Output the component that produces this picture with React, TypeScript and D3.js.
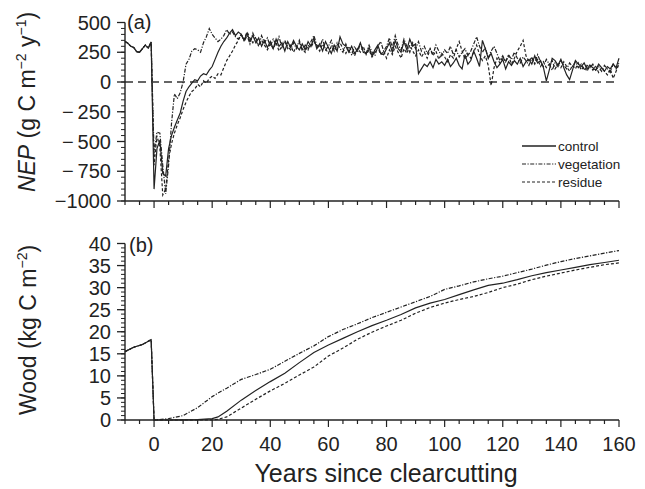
import React from "react";
import * as d3 from "d3";

const W = 645;
const H = 489;
const FONT = "'Liberation Sans', Arial, Helvetica, sans-serif";
const INK = "#222";

// NEP (g C m-2 y-1), one value per year
const nepPreYears = [-10, -9, -8, -7, -6, -5, -4, -3, -2, -1];
const nepPre = [340, 325, 300, 290, 255, 250, 280, 310, 285, 335]; // same for all runs

// years 0..160
const nepControl = [
  -900, -560, -490, -770, -790, -560, -450, -380, -320, -260,
  -160, -80, -40, -10, 20, 10, 50, 70, 60, 100,
  130, 190, 250, 300, 340, 370, 410, 440, 390, 420,
  400, 350, 410, 340, 390, 330, 370, 300, 350, 290,
  340, 280, 360, 300, 330, 260, 340, 290, 350, 300,
  270, 320, 270, 340, 300, 370, 280, 320, 260, 340,
  290, 240, 310, 260, 380, 320, 300, 250, 300, 240,
  270, 330, 250, 240, 290, 220, 270, 310, 240, 230,
  280, 330, 250, 350, 280, 250, 340, 270, 360, 300,
  320, 70, 110, 150, 130, 170, 120, 190, 150, 170,
  140, 190, 130, 160, 200, 140, 110, 230, 150, 180,
  260, 200, 130, 350, 280, 200, 240, 170, 120, 150,
  190, 110, 170, 140, 180, 150, 200, 130, 170, 190,
  150, 220, 160, 180, 120, 10, 100, 200, 180, 140,
  190, 120, 60, 20, 100, 180, 150, 130, 160, 110,
  140, 120, 100, 150, 120, 90, 130, 110, 150, 120,
  200,
];

const nepVegetation = [
  -600, -420, -430, -700, -940, -700, -350, -100, -140, -90,
  0, 150, 190, 260, 280, 270, 250, 330, 380, 450,
  400, 370, 340, 360, 390, 440, 400, 420, 380, 360,
  400, 340, 390, 320, 410, 350, 300, 390, 330, 370,
  300, 360, 310, 380, 290, 350, 300, 270, 330, 280,
  350, 260, 310, 270, 340, 390, 310, 290, 360, 270,
  300, 350, 260, 330, 280, 250, 320, 260, 230, 300,
  250, 320, 270, 240, 310, 250, 220, 300, 340, 260,
  300, 370, 290, 390, 310, 270, 360, 300, 250, 330,
  280, 340, 260, 300, 240, 280, 230, 310, 260, 220,
  270, 240, 300, 230, 270, 210, 250, 280, 220, 260,
  320, 380, 300, 250, 290, 200, 260, 300, 240, 180,
  220, 170, 230, 190, 250, 200, 160, 210, 180, 140,
  200, 160, 230, 170, 130, 190, 150, 100, 160, 130,
  180, 140, 110, 160, 130, 170, 120, 150, 100, 140,
  120, 150, 100, 130, 90, 140, 110, 80, 150, 110,
  160,
];

const nepResidue = [
  -700, -450, -550, -950, -900, -650, -520, -430, -360, -300,
  -230, -170, -120, -80, -60, -20, -40, 10, -10, 30,
  50, 30, 70, 60, 120, 180, 220, 260, 310, 350,
  400, 360, 420, 370, 330, 380, 300, 350, 310, 270,
  320, 280, 330, 260, 300, 340, 280, 310, 250, 300,
  330, 280, 250, 310, 290, 340, 300, 260, 320, 280,
  240, 300, 260, 310, 330, 280, 240, 300, 260, 220,
  280, 250, 300, 230, 270, 210, 250, 290, 230, 260,
  200, 270, 230, 300, 250, 200, 280, 240, 310, 260,
  220, 270, 210, 250, 200, 280, 220, 260, 190, 240,
  210, 170, 230, 200, 280, 340, 260, 190, 240, 200,
  250, 310, 230, 180, 220, 140, -30, 120, 200, 160,
  210, 170, 220, 150, 200, 260, 300, 350, 220, 170,
  210, 150, 190, 130, 170, 120, 150, 180, 110, 150,
  120, 170, 130, 90, 140, 110, 160, 100, 130, 90,
  140, 100, 130, 80, 120, 90, 60, 110, 30, 90,
  150,
];

// Wood (kg C m-2)
const woodPreYears = [-10, -7, -4, -1];
const woodPre = [15.5, 16.5, 17.1, 18.2];
const woodYears = [0, 5, 10, 15, 20, 22, 25, 30, 35, 40, 45, 50, 55, 60, 65, 70, 75, 80,
  85, 90, 95, 100, 105, 110, 115, 120, 125, 130, 135, 140, 145, 150, 155, 160];
const woodControl = [0, 0, 0.05, 0.1, 0.3, 0.7, 2.0, 4.5, 6.7, 8.7, 10.6, 13.0, 15.3, 17.0,
  18.5, 20.0, 21.4, 22.6, 23.9, 25.4, 26.5, 27.3, 28.4, 29.5, 30.5, 31.0, 31.8, 32.7,
  33.4, 34.0, 34.6, 35.2, 35.7, 36.2];
const woodVegetation = [0, 0.3, 1.0, 2.8, 5.3, 6.1, 7.2, 9.2, 10.3, 11.5, 13.3, 15.1, 16.8,
  18.9, 20.5, 21.8, 23.2, 24.4, 25.6, 26.8, 28.0, 29.6, 30.4, 31.3, 32.0, 32.6, 33.4,
  34.2, 35.1, 35.9, 36.6, 37.2, 37.8, 38.4];
const woodResidue = [0, 0, 0, 0, 0.05, 0.15, 0.7, 2.7, 4.7, 6.6, 8.3, 10.2, 12.0, 14.5, 16.3,
  18.3, 19.9, 21.3, 22.6, 24.2, 25.5, 26.5, 27.3, 28.0, 28.9, 30.0, 30.8, 31.8, 32.6,
  33.3, 34.0, 34.6, 35.2, 35.6];

const nepTicks = [500, 250, 0, -250, -500, -750, -1000];
const nepTickLabels = ["500", "250", "0", "\u2212\u2009250", "\u2212\u2009500", "\u2212\u2009750", "\u22121000"];
const woodTicks = [0, 5, 10, 15, 20, 25, 30, 35, 40];
const yearTicks = [0, 20, 40, 60, 80, 100, 120, 140, 160];

const runs = ["control", "vegetation", "residue"];
const dashes: Record<string, string> = {
  control: "none",
  vegetation: "4,1.5,1.2,1.5",
  residue: "3,2",
};

export default function App() {
  const x = d3.scaleLinear().domain([-10, 160]).range([125, 619]);
  const yTop = d3.scaleLinear().domain([-1000, 500]).range([201, 22.5]);
  const yBot = d3.scaleLinear().domain([0, 40]).range([420, 243.5]);

  const nepYears = nepPreYears.concat(d3.range(0, 161));
  const nepSeries: Record<string, number[]> = {
    control: nepPre.concat(nepControl),
    vegetation: nepPre.concat(nepVegetation),
    residue: nepPre.concat(nepResidue),
  };
  const woodX = woodPreYears.concat(woodYears);
  const woodSeries: Record<string, number[]> = {
    control: woodPre.concat(woodControl),
    vegetation: woodPre.concat(woodVegetation),
    residue: woodPre.concat(woodResidue),
  };

  const lineTop = d3.line<[number, number]>().x(d => x(d[0])).y(d => yTop(d[1]));
  const lineBot = d3.line<[number, number]>().x(d => x(d[0])).y(d => yBot(d[1]));

  const x0 = x(-10);
  const x1 = x(160);
  const minorYears = d3.range(-10, 161, 5);

  const xAxis = (yPos: number, labels: boolean) => (
    <g>
      <line x1={x0} x2={x1} y1={yPos} y2={yPos} stroke={INK} strokeWidth={1.4} />
      {minorYears.map(t => {
        const major = t % 20 === 0;
        return (
          <line key={t} x1={x(t)} x2={x(t)} y1={yPos} y2={yPos + (major ? 7 : 4)}
            stroke={INK} strokeWidth={1.2} />
        );
      })}
      {labels && yearTicks.map(t => (
        <text key={"l" + t} x={x(t)} y={yPos + 31} textAnchor="middle" fontSize={20}
          fontFamily={FONT} fill={INK}>{t}</text>
      ))}
    </g>
  );

  const yAxis = (scale: d3.ScaleLinear<number, number>, step: number, ticks: number[], labels: string[]) => {
    const [d0, d1] = scale.domain();
    const minor = d3.range(d0, d1 + step / 2, step);
    return (
      <g>
        <line x1={x0} x2={x0} y1={scale(d1)} y2={scale(d0)} stroke={INK} strokeWidth={1.4} />
        {minor.map(t => (
          <line key={t} x1={x0 - 4} x2={x0} y1={scale(t)} y2={scale(t)} stroke={INK} strokeWidth={1} />
        ))}
        {ticks.map((t, i) => (
          <g key={"m" + t}>
            <line x1={x0 - 8} x2={x0} y1={scale(t)} y2={scale(t)} stroke={INK} strokeWidth={1.3} />
            <text x={x0 - 14} y={scale(t) + 7} textAnchor="end" fontSize={20}
              fontFamily={FONT} fill={INK}>{labels[i]}</text>
          </g>
        ))}
      </g>
    );
  };

  return (
    <svg width={W} height={H} style={{ position: "absolute", left: 0, top: 0, background: "#fff" }}>
      <rect width={W} height={H} fill="#fff" />

      {/* (a) NEP */}
      <line x1={x0} x2={x1} y1={yTop(0)} y2={yTop(0)} stroke="#333" strokeWidth={1.3}
        strokeDasharray="8,5" />
      {runs.map(r => (
        <path key={r} d={lineTop(nepYears.map((yr, i) => [yr, nepSeries[r][i]]) as [number, number][]) || ""}
          fill="none" stroke={INK} strokeWidth={1.2} strokeDasharray={dashes[r]} />
      ))}
      {yAxis(yTop, 50, nepTicks, nepTickLabels)}
      {xAxis(yTop(-1000), false)}
      <text x={127} y={29} fontSize={20} fontFamily={FONT} fill={INK}>(a)</text>

      {/* legend */}
      {runs.map((r, i) => (
        <g key={"lg" + r}>
          <line x1={522} x2={556} y1={146 + i * 18} y2={146 + i * 18} stroke={INK}
            strokeWidth={r === "control" ? 1.6 : 1.2} strokeDasharray={dashes[r]} />
          <text x={558} y={146 + i * 18 + 5} fontSize={13.5} fontFamily={FONT} fill={INK}>{r}</text>
        </g>
      ))}

      <text transform="translate(35,102) rotate(-90)" textAnchor="middle" fontSize={23}
        fontFamily={FONT} fill={INK}>
        <tspan fontStyle="italic">NEP</tspan>
        <tspan> (g C m</tspan>
        <tspan dy={-9} fontSize={14}>{"\u2212"}2</tspan>
        <tspan dy={9}> y</tspan>
        <tspan dy={-9} fontSize={14}>{"\u2212"}1</tspan>
        <tspan dy={9}>)</tspan>
      </text>

      {/* (b) Wood */}
      {runs.map(r => (
        <path key={"w" + r} d={lineBot(woodX.map((yr, i) => [yr, woodSeries[r][i]]) as [number, number][]) || ""}
          fill="none" stroke={INK} strokeWidth={1.2} strokeDasharray={dashes[r]} />
      ))}
      {yAxis(yBot, 1, woodTicks, woodTicks.map(String))}
      {xAxis(yBot(0), true)}
      <text x={129} y={252} fontSize={20} fontFamily={FONT} fill={INK}>(b)</text>

      <text transform="translate(36,330) rotate(-90)" textAnchor="middle" fontSize={23}
        fontFamily={FONT} fill={INK}>
        <tspan>Wood (kg C m</tspan>
        <tspan dy={-9} fontSize={14}>{"\u2212"}2</tspan>
        <tspan dy={9}>)</tspan>
      </text>

      <text x={386} y={482} textAnchor="middle" fontSize={25} fontFamily={FONT} fill={INK}>
        Years since clearcutting
      </text>
    </svg>
  );
}
